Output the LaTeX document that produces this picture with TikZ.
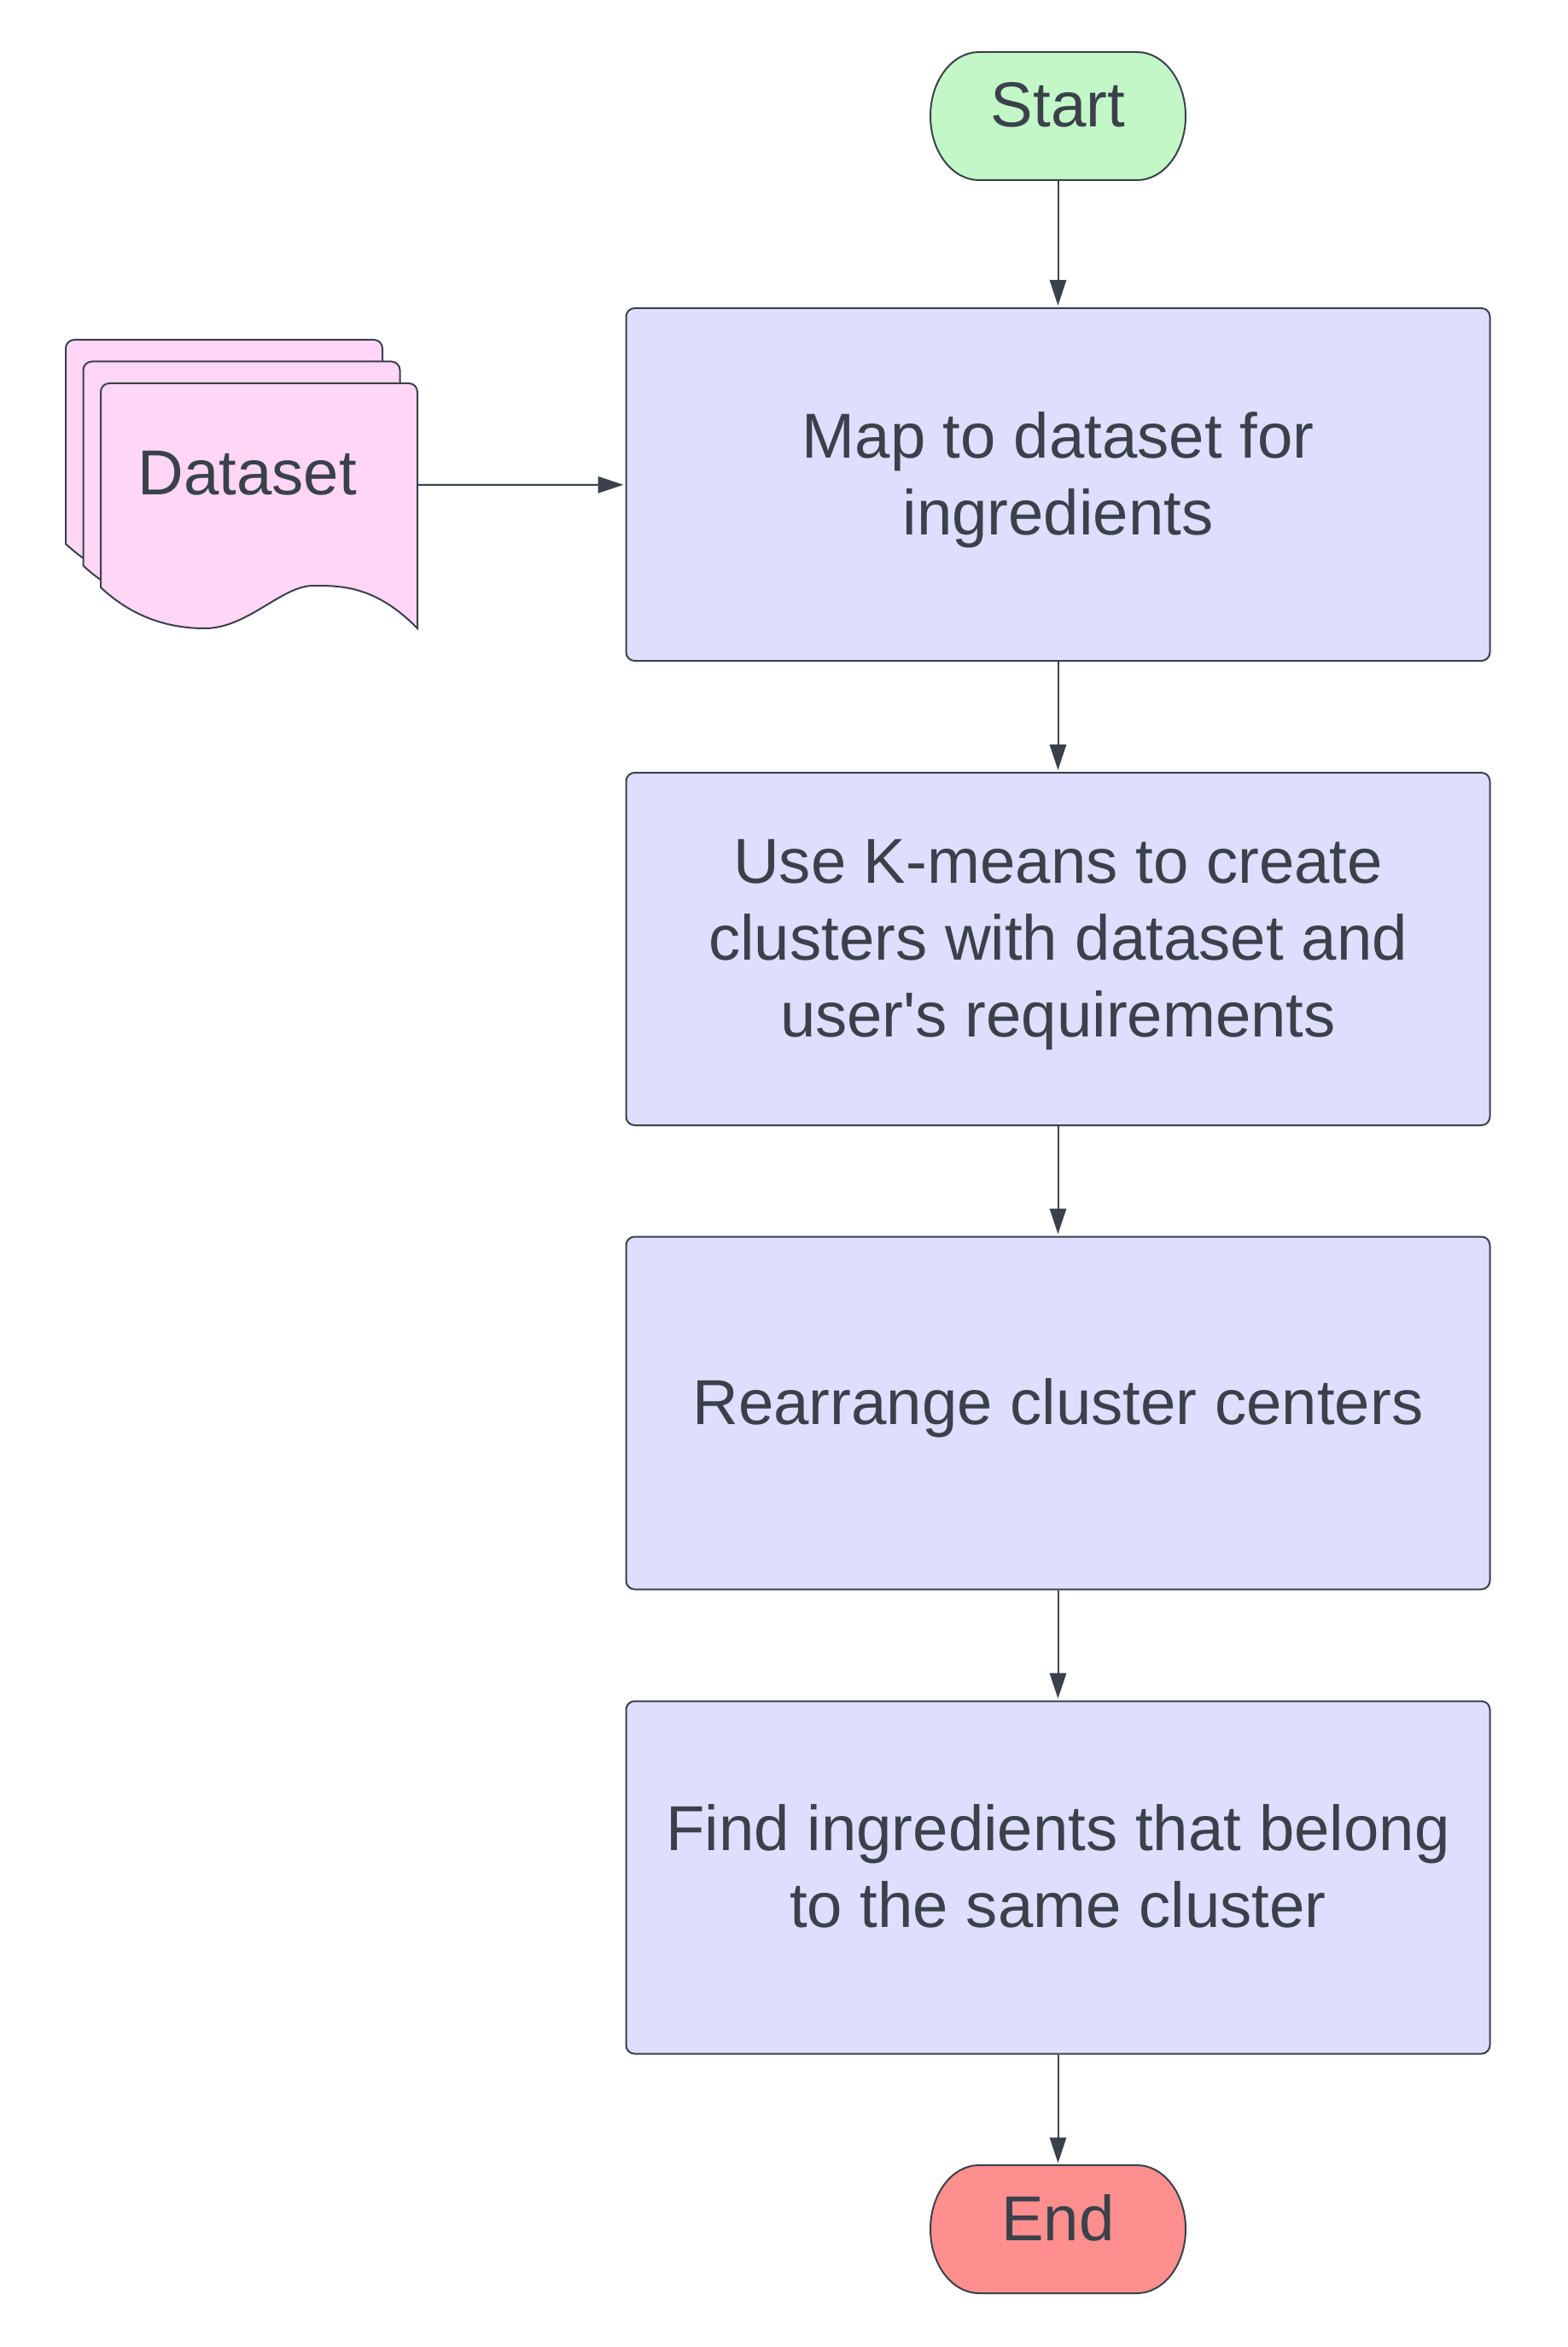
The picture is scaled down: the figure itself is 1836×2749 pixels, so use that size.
\documentclass[tikz,border=0pt]{standalone}
\usepackage{fontspec}
\setmainfont{Liberation Sans}[Ligatures=TeXOff]
\usetikzlibrary{arrows.meta}
\definecolor{linegray}{HTML}{3A414A}
\definecolor{startgreen}{HTML}{C3F7C8}
\definecolor{stopred}{HTML}{FF8F8F}
\definecolor{boxblue}{HTML}{DEDEFF}
\definecolor{docpink}{HTML}{FFD6F5}

\begin{document}
\begin{tikzpicture}[x=0.5pt, y=0.5pt,
    every node/.style={text=linegray, font=\fontsize{37.2}{45}\selectfont, align=center, text depth=13pt},
    process/.style={draw=linegray, fill=boxblue, line width=1pt, rounded corners=5pt, minimum width=506pt, minimum height=206.5pt},
    terminal/.style={minimum width=149.5pt, minimum height=75pt},
    sheet/.style={fill=docpink, draw=linegray, line width=1pt},
    flow/.style={draw=linegray, line width=1pt, -{Triangle[length=15pt, width=9.7pt]}, shorten >=1pt}]
    \useasboundingbox (0,0) rectangle (1836,-2749);

    % Draw the dataset sheets
    \filldraw[sheet, shift={(-41,51)}] (118,-688) -- (118,-459) arc[start angle=180, end angle=90, radius=10] -- (479,-449) arc[start angle=90, end angle=0, radius=10] -- (489,-736) .. controls (440,-686) and (400,-686) .. (367,-686) .. controls (330,-686) and (290,-736) .. (240,-736) .. controls (190,-736) and (150,-718) .. (118,-688) -- cycle;
    \filldraw[sheet, shift={(-20.5,25.5)}] (118,-688) -- (118,-459) arc[start angle=180, end angle=90, radius=10] -- (479,-449) arc[start angle=90, end angle=0, radius=10] -- (489,-736) .. controls (440,-686) and (400,-686) .. (367,-686) .. controls (330,-686) and (290,-736) .. (240,-736) .. controls (190,-736) and (150,-718) .. (118,-688) -- cycle;
    \filldraw[sheet] (118,-688) -- (118,-459) arc[start angle=180, end angle=90, radius=10] -- (479,-449) arc[start angle=90, end angle=0, radius=10] -- (489,-736) .. controls (440,-686) and (400,-686) .. (367,-686) .. controls (330,-686) and (290,-736) .. (240,-736) .. controls (190,-736) and (150,-718) .. (118,-688) -- cycle;

    % Draw the start and end shapes
    \filldraw[fill=startgreen, draw=linegray, line width=1pt] (1147,-61) -- (1332,-61) arc[start angle=90, end angle=-90, x radius=57, y radius=75] -- (1147,-211) arc[start angle=270, end angle=90, x radius=57, y radius=75] -- cycle;
    \filldraw[fill=stopred, draw=linegray, line width=1pt] (1147,-2536) -- (1332,-2536) arc[start angle=90, end angle=-90, x radius=57, y radius=75] -- (1147,-2686) arc[start angle=270, end angle=90, x radius=57, y radius=75] -- cycle;

    % Labels
    \node[terminal] (start) at (1239.5,-136) {Start};
    \node[process] (map) at (1239.5,-567.5) {Map to dataset for\\ingredients};
    \node[process] (kmeans) at (1239.5,-1111.5) {Use K-means to create\\clusters with dataset and\\user's requirements};
    \node[process] (rearrange) at (1239.5,-1655) {Rearrange cluster centers};
    \node[process] (find) at (1239.5,-2199) {Find ingredients that belong\\to the same cluster};
    \node[terminal] (stop) at (1239.5,-2611) {End};
    \node (dataset) at (289.5,-567) {Dataset};
    \coordinate (docedge) at (489,-568);

    % Arrows
    \draw[flow] (start) -- (map);
    \draw[flow] (docedge) -- (map);
    \draw[flow] (map) -- (kmeans);
    \draw[flow] (kmeans) -- (rearrange);
    \draw[flow] (rearrange) -- (find);
    \draw[flow] (find) -- (stop);
\end{tikzpicture}
\end{document}
